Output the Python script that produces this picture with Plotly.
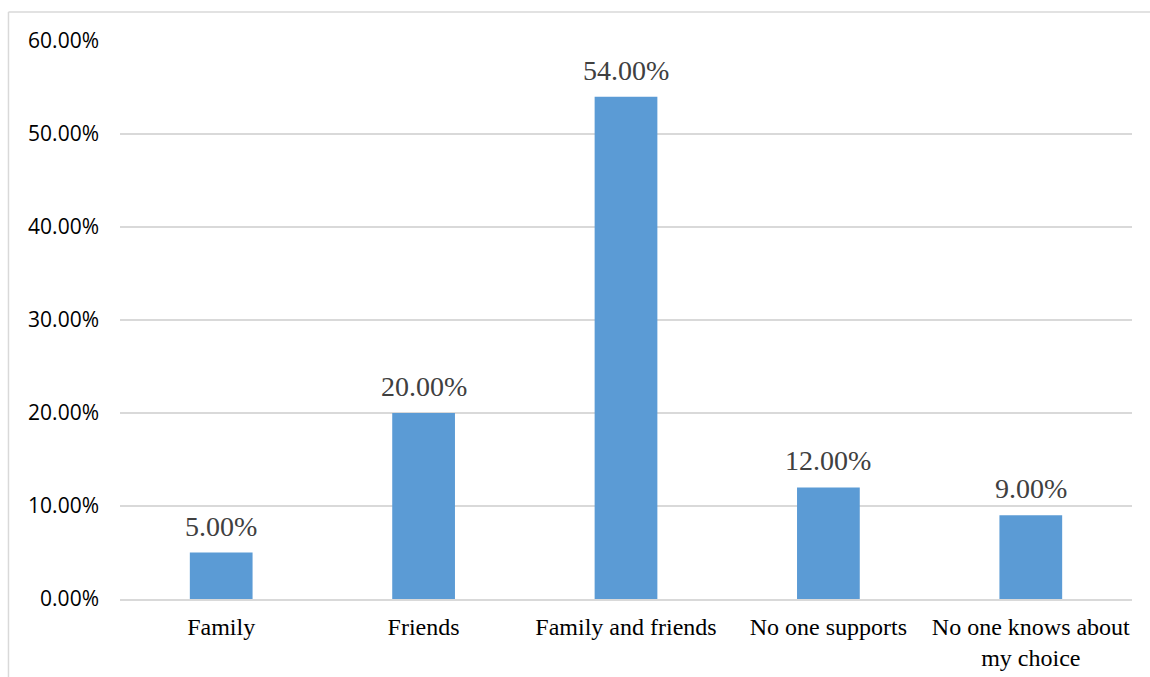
import plotly.graph_objects as go

categories = ["Family", "Friends", "Family and friends", "No one supports", "No one knows about<br>my choice"]
values = [5.0, 20.0, 54.0, 12.0, 9.0]
tick_vals = [0, 10, 20, 30, 40, 50, 60]
tick_text = ["0.00%", "10.00%", "20.00%", "30.00%", "40.00%", "50.00%", "60.00%"]

fig = go.Figure(go.Bar(
    x=categories, y=values,
    marker=dict(color="#5b9bd5", line=dict(width=0)),
))

for c, v in zip(categories, values):
    fig.add_annotation(
        x=c, y=v, text=f"{v:.2f}%", showarrow=False,
        yanchor="bottom", yshift=9,
        font=dict(family="Liberation Serif", size=28, color="#404040"),
    )

fig.update_layout(
    width=1150, height=677,
    margin=dict(l=120, r=18, t=41, b=78, autoexpand=False),
    paper_bgcolor="white", plot_bgcolor="white",
    bargap=0.69,
    showlegend=False,
    xaxis=dict(
        tickfont=dict(family="Liberation Serif", size=24, color="#000000"),
        showgrid=False, showline=True, linecolor="#d9d9d9", linewidth=1.5,
        ticks="", ticklabelstandoff=5, automargin=False,
    ),
    yaxis=dict(
        range=[0, 60], tickvals=tick_vals, ticktext=tick_text,
        tickfont=dict(family="Open Sans", size=21, color="#000000"),
        showgrid=True, gridcolor="#d9d9d9", gridwidth=1.5,
        zeroline=False, ticks="", ticklabelstandoff=20, automargin=False,
    ),
    shapes=[
        dict(type="line", xref="paper", yref="paper", x0=-0.1102, x1=1.05, y0=1.052, y1=1.052,
             line=dict(color="#d9d9d9", width=1.5)),
        dict(type="line", xref="paper", yref="paper", x0=-0.1102, x1=-0.1102, y0=1.052, y1=-0.2,
             line=dict(color="#d9d9d9", width=1.5)),
    ],
)

fig.write_html("out.html")
